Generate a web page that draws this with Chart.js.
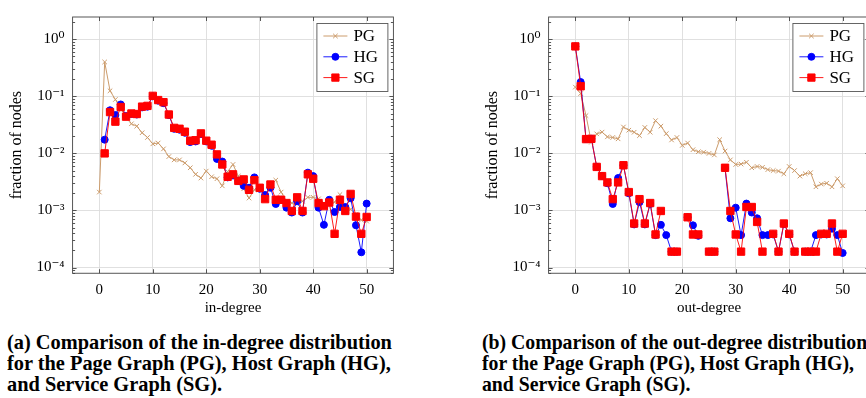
<!DOCTYPE html>
<html>
<head>
<meta charset="utf-8">
<script src="https://cdn.jsdelivr.net/npm/chart.js@4.4.0/dist/chart.umd.min.js"></script>
<style>
  body { margin: 0; width: 866px; height: 398px; overflow: hidden; background: #fff; position: relative; }
  .panel { position: absolute; top: 0; width: 400px; height: 320px; }
  .cap { position: absolute; top: 332px; font-family: "Liberation Serif"; font-weight: bold; font-size: 21px; line-height: 21px; white-space: nowrap; transform-origin: 0 0; color: #000; }
</style>
</head>
<body>
<div class="panel" style="left:0"><canvas id="inChart" width="400" height="320"></canvas></div>
<div class="panel" style="left:476px"><canvas id="outChart" width="400" height="320"></canvas></div>
<div class="cap" id="capA" style="left:7px">(a) Comparison of the in-degree distribution<br>for the Page Graph (PG), Host Graph (HG),<br>and Service Graph (SG).</div>
<div class="cap" id="capB" style="left:482px">(b) Comparison of the out-degree distribution<br>for the Page Graph (PG), Host Graph (HG),<br>and Service Graph (SG).</div>
<script>
// degree 0..50
const degrees = Array.from({ length: 51 }, (_, i) => i);

// in-degree distribution
const pgIn = [0.0021, 0.40, 0.125, 0.088, 0.060, 0.045, 0.033, 0.030, 0.023, 0.019,
  0.0147, 0.0152, 0.0120, 0.0088, 0.0077, 0.0077, 0.0068, 0.0056, 0.0043, 0.0037,
  0.0049, 0.0039, 0.0036, 0.0027, 0.0048, 0.0064, 0.0040, 0.0024, 0.00165, 0.0023,
  0.0025, 0.0019, 0.0027, 0.0034, 0.0021, 0.00145, 0.00135, 0.0013, 0.00145, 0.0017,
  0.0017, 0.0016, 0.00135, 0.0013, 0.0014, 0.0019, 0.00105, 0.00105, 0.00085, 0.00068, 0.00065];
const hgIn = [null, 0.0174, 0.057, 0.047, 0.072, 0.045, 0.049, 0.048, 0.064, 0.066,
  0.100, 0.084, 0.076, 0.047, 0.027, 0.026, 0.023, 0.0158, 0.0162, 0.0218,
  0.0162, 0.0136, 0.0080, 0.0072, 0.0038, 0.0041, 0.0033, 0.0027, 0.0025, 0.0038,
  0.0024, 0.00187, 0.0025, 0.0013, 0.00154, 0.00112, 0.00092, 0.00145, 0.00092, 0.0046,
  0.0040, 0.00112, 0.00056, 0.00154, 0.00094, 0.00115, 0.00115, 0.00164, 0.00055, 0.000185, 0.00132];
const sgIn = [null, 0.0100, 0.053, 0.036, 0.065, 0.044, 0.050, 0.049, 0.066, 0.068,
  0.102, 0.086, 0.079, 0.048, 0.028, 0.027, 0.024, 0.0167, 0.0170, 0.0224,
  0.0167, 0.0142, 0.0096, 0.0064, 0.0039, 0.0043, 0.0033, 0.0035, 0.0023, 0.0034,
  0.0025, 0.00158, 0.00285, 0.00154, 0.00154, 0.00135, 0.00098, 0.0017, 0.00098, 0.0043,
  0.0036, 0.00135, 0.00119, 0.00138, 0.00039, 0.00154, 0.00098, 0.00195, 0.00078, 0.00039, 0.00077];

// out-degree distribution
const pgOut = [0.145, 0.112, 0.046, 0.0157, 0.022, 0.0236, 0.0195, 0.019, 0.018, 0.029,
  0.0255, 0.0235, 0.0205, 0.0285, 0.0235, 0.0375, 0.030, 0.0222, 0.0172, 0.019,
  0.0138, 0.0152, 0.0116, 0.0107, 0.0105, 0.0100, 0.0094, 0.0174, 0.0110, 0.0077,
  0.0064, 0.0065, 0.0070, 0.0056, 0.0059, 0.0057, 0.0052, 0.0050, 0.0049, 0.0044,
  0.0059, 0.0050, 0.0040, 0.0044, 0.0046, 0.0026, 0.0029, 0.0030, 0.0026, 0.0036, 0.0027];
const hgOut = [0.75, 0.178, 0.0178, 0.018, 0.0058, 0.0040, 0.0030, 0.0013, 0.0037, 0.0062,
  0.0020, 0.00057, 0.0014, 0.00057, 0.0013, 0.00037, 0.00056, 0.00037, 0.00019, 0.00019,
  null, 0.00076, 0.00055, 0.00036, null, 0.00019, 0.00019, null, 0.0055, 0.00073,
  0.00112, 0.00037, 0.00132, 0.00092, 0.00073, 0.00037, 0.00037, 0.00038, 0.00019, 0.00058,
  0.00038, 0.00019, null, 0.00019, 0.00019, 0.00037, 0.00038, 0.00038, 0.00048, 0.00037, 0.00018];
const sgOut = [0.75, 0.15, 0.0178, 0.018, 0.0058, 0.0040, 0.0031, 0.00158, 0.0031, 0.0062,
  0.0021, 0.00059, 0.00158, 0.00059, 0.00135, 0.00038, 0.00098, null, 0.00019, 0.00019,
  null, 0.00076, 0.00038, 0.00038, null, 0.00019, 0.00019, null, 0.0056, 0.00098,
  0.00038, 0.00019, 0.00115, 0.00115, 0.00063, 0.00019, null, 0.00039, 0.00019, 0.00059,
  0.00039, 0.00019, null, 0.00019, 0.00019, 0.00019, 0.00039, 0.00039, 0.00059, 0.00019, 0.00039];

const xTicks = [0, 10, 20, 30, 40, 50];
const yTicks = [1e-4, 1e-3, 1e-2, 1e-1, 1];
const seriesNames = ['PG', 'HG', 'SG'];

const PG_COLOR = '#cc9c6c';
const styles = [
  { color: PG_COLOR, pointStyle: 'crossRot', radius: 3.2, lineWidth: 1, fill: PG_COLOR },
  { color: '#0000ff', pointStyle: 'circle', radius: 3.5, lineWidth: 0.9, fill: '#0000ff' },
  { color: '#ff0000', pointStyle: 'rect', radius: 5.2, lineWidth: 0.9, fill: '#ff0000' }
];

const sup = { '0': '\u2070', '1': '\u00b9', '2': '\u00b2', '3': '\u00b3', '4': '\u2074', '-': '\u207b' };
const FONT = '"Liberation Serif", "DejaVu Serif", serif';
Chart.defaults.font.family = FONT;
Chart.defaults.color = '#000';

// frame, inner ticks and legend, pgfplots style
const pgfFrame = {
  id: 'pgfFrame',
  afterDatasetsDraw(chart) {
    const { ctx, chartArea: a, scales } = chart;
    const y = scales.y, x = scales.x;
    ctx.save();
    ctx.strokeStyle = '#444';
    ctx.lineWidth = 0.9;
    ctx.beginPath();
    yTicks.forEach(v => {
      const py = Math.round(y.getPixelForValue(v)) + 0.5;
      ctx.moveTo(a.left, py); ctx.lineTo(a.left + 4, py);
      ctx.moveTo(a.right, py); ctx.lineTo(a.right - 4, py);
    });
    for (let e = -5; e <= 0; e++) {
      for (let m = 2; m <= 9; m++) {
        const v = m * Math.pow(10, e);
        if (v < y.min || v > y.max) continue;
        const py = Math.round(y.getPixelForValue(v)) + 0.5;
        ctx.moveTo(a.left, py); ctx.lineTo(a.left + 2.5, py);
        ctx.moveTo(a.right, py); ctx.lineTo(a.right - 2.5, py);
      }
    }
    xTicks.forEach(v => {
      const px = Math.round(x.getPixelForValue(v)) + 0.5;
      ctx.moveTo(px, a.bottom); ctx.lineTo(px, a.bottom - 4);
      ctx.moveTo(px, a.top); ctx.lineTo(px, a.top + 4);
    });
    ctx.stroke();
    ctx.strokeRect(a.left, a.top, a.right - a.left, a.bottom - a.top);

    // legend box
    const w = 71, h = 68;
    const x0 = a.right - 6 - w, y0 = a.top + 6;
    ctx.fillStyle = '#fff';
    ctx.fillRect(x0, y0, w, h);
    ctx.strokeStyle = '#555';
    ctx.strokeRect(x0 + 0.5, y0 + 0.5, w, h);
    ctx.font = '17px ' + FONT;
    ctx.textBaseline = 'middle';
    seriesNames.forEach((name, i) => {
      const s = styles[i];
      const ly = y0 + 13 + i * 20.8;
      ctx.strokeStyle = s.color;
      ctx.lineWidth = s.lineWidth;
      ctx.beginPath();
      ctx.moveTo(x0 + 7, ly); ctx.lineTo(x0 + 31, ly);
      ctx.stroke();
      ctx.fillStyle = s.fill;
      Chart.helpers.drawPoint(ctx, { pointStyle: s.pointStyle, radius: s.radius, rotation: 0, borderWidth: 1 }, x0 + 19, ly);
      ctx.fillStyle = '#000';
      ctx.fillText(name, x0 + 37, ly + 1);
    });
    ctx.restore();
  }
};

function makeChart(id, xTitle, pg, hg, sg) {
  const series = [pg, hg, sg];
  const datasets = seriesNames.map((name, i) => ({
    label: name,
    data: degrees.map((d, k) => ({ x: d, y: series[i][k] })),
    borderColor: styles[i].color,
    backgroundColor: styles[i].fill,
    borderWidth: styles[i].lineWidth,
    pointStyle: styles[i].pointStyle,
    pointRadius: styles[i].radius,
    pointBorderWidth: 1,
    pointBorderColor: styles[i].color,
    pointBackgroundColor: styles[i].fill,
    tension: 0,
    spanGaps: false,
    order: 3 - i
  }));
  new Chart(document.getElementById(id), {
    type: 'line',
    data: { datasets },
    options: {
      responsive: false,
      animation: false,
      layout: { padding: { top: 6, right: 6.6, left: 0, bottom: 0 } },
      plugins: { legend: { display: false }, tooltip: { enabled: false } },
      scales: {
        x: {
          type: 'linear',
          min: -5, max: 55,
          afterBuildTicks: s => { s.ticks = xTicks.map(v => ({ value: v })); },
          afterFit: s => { s.height = 46.75; },
          grid: { color: '#dcdcdc', lineWidth: 0.9, drawTicks: false },
          border: { display: false },
          ticks: { padding: 8, font: { size: 15 }, color: '#000' },
          title: { display: true, text: xTitle, font: { size: 15 }, padding: { top: 0, bottom: 3 }, color: '#000' }
        },
        y: {
          type: 'logarithmic',
          min: Math.pow(10, -4.1), max: Math.pow(10, 0.39),
          afterBuildTicks: s => { s.ticks = yTicks.map(v => ({ value: v })); },
          afterFit: s => { s.width = 72.6; },
          grid: { color: '#dcdcdc', lineWidth: 0.9, drawTicks: false },
          border: { display: false },
          ticks: {
            padding: 8, font: { size: 15 }, color: '#000',
            callback: v => '10' + String(Math.round(Math.log10(v))).split('').map(c => sup[c]).join('')
          },
          title: { display: true, text: 'fraction of nodes', font: { size: 16 }, padding: { top: 7.5, bottom: 0 }, color: '#000' }
        }
      }
    },
    plugins: [pgfFrame]
  });
}

makeChart('inChart', 'in-degree', pgIn, hgIn, sgIn);
makeChart('outChart', 'out-degree', pgOut, hgOut, sgOut);

// squeeze captions to the width of the reference lines
['capA', 'capB'].forEach(id => {
  const el = document.getElementById(id);
  const scale = 385 / el.getBoundingClientRect().width;
  el.style.transform = 'scaleX(' + scale.toFixed(3) + ')';
});
</script>
</body>
</html>
